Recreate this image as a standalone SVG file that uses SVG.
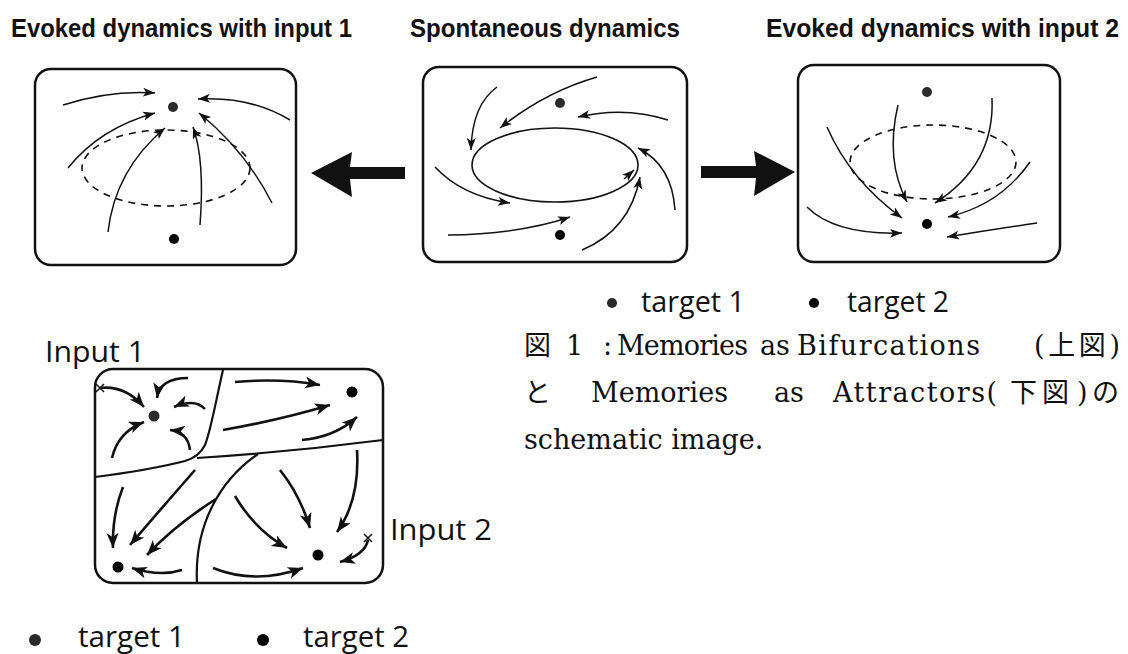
<svg xmlns="http://www.w3.org/2000/svg" width="1128" height="654" viewBox="0 0 1128 654">
  <style>
    .title { font-family: "Liberation Sans", Arial, sans-serif; font-weight: bold; font-size: 25px; fill: #111; }
    .label { font-family: "Open Sans", "Liberation Sans", sans-serif; font-size: 30px; fill: #111; }
    .cap { font-family: "DejaVu Serif", "Liberation Serif", "Noto Sans CJK JP", serif; font-size: 27px; fill: #111; }
    .frame { fill: #fff; stroke: #111; stroke-width: 2.5; }
    .flow { fill: none; stroke: #111; stroke-width: 1.5; marker-end: url(#tip); }
    .flowB { fill: none; stroke: #111; stroke-width: 2.6; marker-end: url(#tipB); }
    .orbit { fill: none; stroke: #111; stroke-width: 1.6; }
    .dash { stroke-dasharray: 7 6; }
    .wall { fill: none; stroke: #111; stroke-width: 2.2; }
    .t1 { fill: #2a2a2a; }
    .t2 { fill: #000; }
    .big { fill: #111; }
  </style>
  <defs>
    <marker id="tip" markerUnits="userSpaceOnUse" markerWidth="13" markerHeight="10" refX="12" refY="4.5" orient="auto">
      <path d="M0,0 L12,4.5 L0,9 L3,4.5 Z" fill="#111"/>
    </marker>
    <marker id="tipB" markerUnits="userSpaceOnUse" markerWidth="16" markerHeight="13" refX="15" refY="6" orient="auto">
      <path d="M0,0 L15,6 L0,12 L4,6 Z" fill="#111"/>
    </marker>
  </defs>

  <!-- panel titles -->
  <text class="title" x="11" y="37" textLength="341" lengthAdjust="spacingAndGlyphs">Evoked dynamics with input 1</text>
  <text class="title" x="410" y="37" textLength="270" lengthAdjust="spacingAndGlyphs">Spontaneous dynamics</text>
  <text class="title" x="766" y="37" textLength="353" lengthAdjust="spacingAndGlyphs">Evoked dynamics with input 2</text>

  <!-- evoked with input 1: flow converges on the upper point -->
  <g id="panel-input1">
    <rect class="frame" x="35" y="69" width="261" height="196" rx="16"/>
    <ellipse class="orbit dash" cx="166" cy="168" rx="84" ry="38"/>
    <circle class="t1" cx="173" cy="107" r="5"/>
    <circle class="t2" cx="174" cy="239" r="5"/>
    <path class="flow" d="M63,105 Q110,90 155,93"/>
    <path class="flow" d="M290,120 Q250,96 198,99"/>
    <path class="flow" d="M68,168 Q100,128 155,113"/>
    <path class="flow" d="M108,232 Q115,170 165,128"/>
    <path class="flow" d="M200,225 Q205,160 193,127"/>
    <path class="flow" d="M272,203 Q245,150 199,113"/>
  </g>

  <!-- spontaneous: flow winds onto a limit cycle -->
  <g id="panel-spontaneous">
    <rect class="frame" x="423" y="67" width="264" height="195" rx="16"/>
    <ellipse class="orbit" cx="555" cy="165" rx="83" ry="37"/>
    <circle class="t1" cx="560" cy="103" r="5"/>
    <circle class="t2" cx="560" cy="235" r="5"/>
    <path class="flow" d="M597,77 Q545,92 500,128"/>
    <path class="flow" d="M668,120 Q625,106 578,117"/>
    <path class="flow" d="M497,87 Q472,105 471,150"/>
    <path class="flow" d="M435,167 Q462,196 510,203"/>
    <path class="flow" d="M448,235 Q520,234 570,217"/>
    <path class="flow" d="M675,210 Q672,165 638,148"/>
    <path class="flow" d="M582,250 Q630,230 640,177"/>
    <path class="flow" d="M624,179 L634,170"/>
  </g>

  <!-- evoked with input 2: flow converges on the lower point -->
  <g id="panel-input2">
    <rect class="frame" x="798" y="65" width="262" height="197" rx="16"/>
    <ellipse class="orbit dash" cx="933" cy="162" rx="83" ry="37"/>
    <circle class="t1" cx="927" cy="92" r="5"/>
    <circle class="t2" cx="927" cy="224" r="5"/>
    <path class="flow" d="M898,105 Q885,160 907,202"/>
    <path class="flow" d="M992,98 Q995,165 935,203"/>
    <path class="flow" d="M827,127 Q850,180 902,218"/>
    <path class="flow" d="M1030,162 Q1000,205 948,217"/>
    <path class="flow" d="M807,207 Q835,235 902,233"/>
    <path class="flow" d="M1037,223 Q990,230 947,237"/>
  </g>

  <!-- block arrows between panels -->
  <g id="connectors">
    <path class="big" d="M405,167 L350,167 L352,152 L311,173 L352,197 L350,179 L405,179 Z"/>
    <path class="big" d="M701,166 L756,166 L754,151 L795,172 L754,196 L756,178 L701,178 Z"/>
  </g>

  <!-- legend for the upper panels -->
  <g id="legend-top">
    <circle class="t1" cx="612" cy="303" r="5"/>
    <text class="label" x="641" y="312" textLength="104" lengthAdjust="spacingAndGlyphs">target 1</text>
    <circle class="t2" cx="814" cy="303" r="5"/>
    <text class="label" x="847" y="312" textLength="102" lengthAdjust="spacingAndGlyphs">target 2</text>
  </g>

  <!-- caption -->
  <g id="caption">
    <text class="cap" y="355"><tspan x="524">図</tspan><tspan x="566">1</tspan><tspan x="603">:</tspan><tspan x="617" textLength="131">Memories</tspan><tspan x="760">as</tspan><tspan x="797" textLength="183">Bifurcations</tspan><tspan x="1034" textLength="86">(上図)</tspan></text>
    <text class="cap" y="402"><tspan x="524">と</tspan><tspan x="591" textLength="137">Memories</tspan><tspan x="774">as</tspan><tspan x="833" textLength="164">Attractors(</tspan><tspan x="1010">下</tspan><tspan x="1042">図</tspan><tspan x="1077">)</tspan><tspan x="1092">の</tspan></text>
    <text class="cap" x="524" y="449">schematic image.</text>
  </g>

  <!-- attractor landscape with four basins -->
  <g id="basins">
    <text class="label" x="45" y="362" textLength="100" lengthAdjust="spacingAndGlyphs">Input 1</text>
    <rect class="frame" x="95" y="369" width="288" height="214" rx="18"/>
    <path class="wall" d="M223,370 C216,400 211,430 205,445 Q199,457 185,461 Q150,470 95,477"/>
    <path class="wall" d="M197,458 Q290,452 383,440"/>
    <path class="wall" d="M197,583 C194,525 220,480 258,454"/>
    <circle class="t1" cx="154" cy="416" r="5.5"/>
    <circle class="t2" cx="352" cy="392" r="5.5"/>
    <circle class="t2" cx="118" cy="567" r="5.5"/>
    <circle class="t2" cx="318" cy="555" r="5.5"/>
    <path d="M96,384 L104,392 M104,384 L96,392" stroke="#111" stroke-width="1.5"/>
    <path d="M364,534 L372,542 M372,534 L364,542" stroke="#111" stroke-width="1.5"/>
    <path class="flowB" d="M100,388 Q125,385 144,407"/>
    <path class="flowB" d="M188,378 Q160,378 157,398"/>
    <path class="flowB" d="M205,409 Q195,398 174,407"/>
    <path class="flowB" d="M112,458 Q118,432 144,422"/>
    <path class="flowB" d="M190,450 Q188,432 170,430"/>
    <path class="flowB" d="M235,382 Q280,378 320,385"/>
    <path class="flowB" d="M223,430 Q280,420 330,405"/>
    <path class="flowB" d="M302,440 Q335,437 357,417"/>
    <path class="flowB" d="M123,487 Q112,515 113,548"/>
    <path class="flowB" d="M195,470 Q160,510 130,545"/>
    <path class="flowB" d="M216,499 Q175,525 147,555"/>
    <path class="flowB" d="M182,570 Q160,577 132,568"/>
    <path class="flowB" d="M235,496 Q255,530 287,548"/>
    <path class="flowB" d="M280,470 Q300,495 310,528"/>
    <path class="flowB" d="M213,568 Q255,585 303,568"/>
    <path class="flowB" d="M357,450 Q360,500 337,532"/>
    <path class="flowB" d="M368,540 Q365,555 340,562"/>
    <text class="label" x="390" y="540" textLength="102" lengthAdjust="spacingAndGlyphs">Input 2</text>
  </g>

  <!-- legend for the landscape -->
  <g id="legend-bottom">
    <circle class="t1" cx="35" cy="640" r="6"/>
    <text class="label" x="78" y="647" textLength="107" lengthAdjust="spacingAndGlyphs">target 1</text>
    <circle class="t2" cx="263" cy="640" r="6"/>
    <text class="label" x="303" y="647" textLength="106" lengthAdjust="spacingAndGlyphs">target 2</text>
  </g>
</svg>
